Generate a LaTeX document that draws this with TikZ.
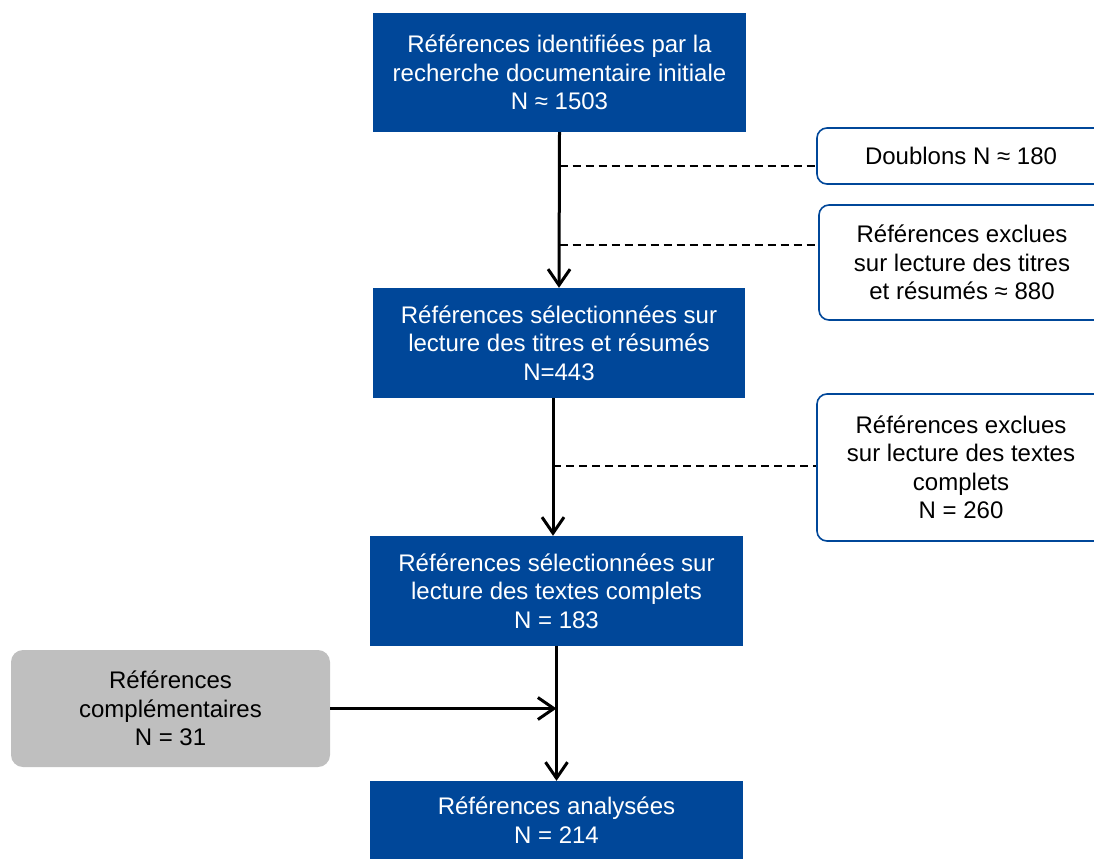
\documentclass[tikz,border=0pt]{standalone}
\usepackage{fontspec}
\setmainfont{Liberation Sans}
\usetikzlibrary{arrows.meta, positioning}

\definecolor{hasblue}{RGB}{0,71,153}
\definecolor{hasgray}{RGB}{191,191,191}

\begin{document}
\begin{tikzpicture}[x=1pt, y=-1pt, >={Straight Barb[length=16pt, width=22pt]},
    every node/.style={font=\fontsize{24}{28.5}\selectfont, align=center, inner sep=0pt},
    main node/.style={rectangle, fill=hasblue, text=white},
    excl node/.style={rectangle, rounded corners=10pt, draw=hasblue, line width=1.6pt, fill=white},
    extra node/.style={rectangle, rounded corners=12pt, fill=hasgray},
    flow/.style={->, line width=3pt},
    skip/.style={line width=1.5pt, dash pattern=on 8pt off 5pt}]

    \useasboundingbox (0,0) rectangle (1094,859);

    % Main column
    \node[main node, minimum width=373pt, minimum height=119pt] (ident) at (559.5,72.5)
        {Références identifiées par la\\recherche documentaire initiale\\N ≈ 1503};
    \node[main node, minimum width=372pt, minimum height=110pt] (titres) at (559,343)
        {Références sélectionnées sur\\lecture des titres et résumés\\N=443};
    \node[main node, minimum width=373pt, minimum height=110pt] (textes) at (556.5,591)
        {Références sélectionnées sur\\lecture des textes complets\\N = 183};
    \node[main node, minimum width=373pt, minimum height=78pt] (analyse) at (556.5,820)
        {Références analysées\\N = 214};

    % Exclusions
    \node[excl node, minimum width=288pt, minimum height=56pt] (doublons) at (961,156)
        {Doublons N ≈ 180};
    \node[excl node, minimum width=286pt, minimum height=115pt] (exclT) at (962,262.5)
        {Références exclues\\sur lecture des titres\\et résumés ≈ 880};
    \node[excl node, minimum width=288pt, minimum height=147pt] (exclX) at (961,467.5)
        {Références exclues\\sur lecture des textes\\complets\\N = 260};

    % Additions
    \node[extra node, minimum width=319pt, minimum height=117pt] (compl) at (170.5,708.5)
        {Références\\complémentaires\\N = 31};

    % Arrows between nodes
    \draw[flow] (ident.south) -- (titres.north);
    \draw[flow] ([xshift=-6pt]titres.south) -- ([xshift=-3.5pt]textes.north);
    \draw[flow] (textes.south) -- (analyse.north);
    \draw[flow] (compl.east) -- (compl.east -| analyse.north);

    % Dashed branches
    \coordinate (j1) at (ident.south |- 0,166);
    \coordinate (j2) at (ident.south |- 0,245);
    \coordinate (j3) at ([xshift=-6pt]titres.south |- 0,466);
    \draw[skip] (j1) -- (j1 -| doublons.west);
    \draw[skip] (j2) -- (j2 -| exclT.west);
    \draw[skip] (j3) -- (j3 -| exclX.west);

\end{tikzpicture}
\end{document}
